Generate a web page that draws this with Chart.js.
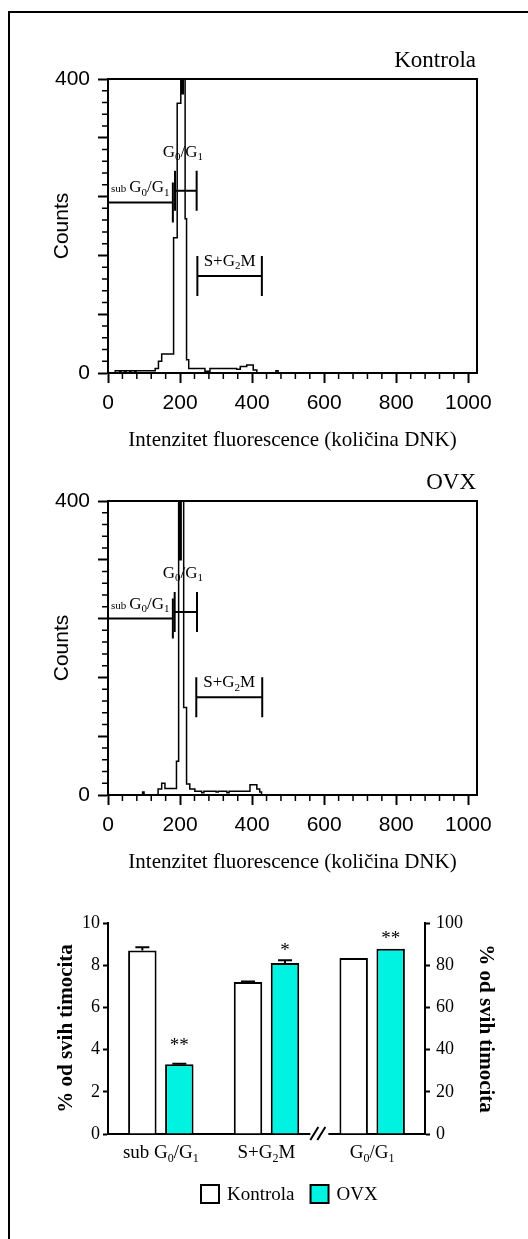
<!DOCTYPE html>
<html>
<head>
<meta charset="utf-8">
<script src="https://cdn.jsdelivr.net/npm/chart.js@4"></script>
<style>
  body { margin: 0; background: #fff; }
  #page { position: relative; width: 528px; height: 1239px; overflow: hidden; }
  #frame { position: absolute; left: 8px; top: 11px; right: -10px; bottom: -10px;
           border-left: 2px solid #000; border-top: 2px solid #000; }
  canvas { position: absolute; left: 0; }
</style>
</head>
<body>
<div id="page">
  <div id="frame"></div>
  <canvas id="kontrola" width="528" height="460" style="top:0"></canvas>
  <canvas id="ovx" width="528" height="460" style="top:422px"></canvas>
  <canvas id="phases" width="528" height="359" style="top:880px"></canvas>
</div>
<script>
// histograms: bin start (channel) and counts per bin
const kontrolaChannel = [0, 20, 32, 36, 46, 50, 60, 64, 74, 78, 131, 140, 149, 182, 192, 202, 206, 209, 214, 218, 224, 269, 283, 357, 367, 385, 403, 413, 466, 472, 1024];
const kontrolaCounts = [0, 3, 0, 3, 0, 3, 0, 3, 0, 3, 6, 16, 26, 184, 367, 600, 380, 600, 210, 18, 6, 2.5, 6, 5, 9, 11, 4, 0, 3, 0, 0];
const ovxChannel = [0, 96, 100, 139, 149, 158, 190, 196, 200, 203, 210, 218, 227, 241, 260, 266, 300, 306, 330, 336, 394, 413, 421, 426, 1024];
const ovxCounts = [0, 4, 0, 8, 16, 9, 46, 700, 320, 700, 119, 15, 8, 5, 3, 5, 4, 5, 3, 5, 14, 8, 4, 0, 0];
const channelTicks = [0, 200, 400, 600, 800, 1000];
const countTicks = [0, 80, 160, 240, 320, 400];
const countLabels = [0, 400];

// gate markers (channel range, counts level)
const gateNames = ['subG0/G1', 'G0/G1', 'S+G2M'];
const kontrolaGateFrom = [0, 186, 248];
const kontrolaGateTo = [180, 246, 427];
const kontrolaGateLevel = [232, 248, 132];
const ovxGateFrom = [0, 185, 245];
const ovxGateTo = [180, 247, 428];
const ovxGateLevel = [240, 249, 133];

// bar chart: % of all thymocytes
const phaseLabels = ['sub G0/G1', 'S+G2M', 'G0/G1'];
const kontrolaPct = [8.7, 7.2, null];        // left axis
const ovxPct = [3.3, 8.1, null];
const kontrolaPctRight = [null, null, 83.4]; // right axis
const ovxPctRight = [null, null, 87.8];
const kontrolaErr = [0.15, 0.03, 0];
const ovxErr = [0.03, 0.13, 0];
const ovxSig = ['**', '*', '**'];

const SERIF = '"Liberation Serif", "Times New Roman", serif';
const SANS = '"Liberation Sans", Arial, sans-serif';
Chart.defaults.font.family = SERIF;
Chart.defaults.color = '#000';

// text with G0 / G1 / G2 subscripts
function richParts(text, smallPrefix) {
  const parts = [];
  let s = text;
  if (smallPrefix && s.startsWith('sub')) {
    parts.push({t: 'sub', k: 'pre'});
    s = s.slice(3).trim();
  }
  for (let i = 0; i < s.length; i++) {
    const k = (/\d/.test(s[i]) && s[i - 1] === 'G') ? 'sub' : 'n';
    const last = parts[parts.length - 1];
    if (last && last.k === k) last.t += s[i];
    else parts.push({t: s[i], k: k});
  }
  return parts;
}

function drawRich(ctx, parts, x, y, align, size) {
  const fontOf = k => (k === 'n' ? size : Math.round(size * 0.65)) + 'px ' + SERIF;
  const widths = parts.map(p => {
    ctx.font = fontOf(p.k);
    return ctx.measureText(p.t).width + (p.k === 'pre' ? 3 : 0);
  });
  const total = widths.reduce((a, b) => a + b, 0);
  let cx = align === 'center' ? x - total / 2 : x;
  ctx.textAlign = 'left';
  ctx.textBaseline = 'alphabetic';
  ctx.fillStyle = '#000';
  parts.forEach((p, i) => {
    ctx.font = fontOf(p.k);
    ctx.fillText(p.t, cx, y + (p.k === 'sub' ? size * 0.2 : 0));
    cx += widths[i];
  });
}

// label placement for the three gates
const gateLabelStyle = [
  {align: 'left', dx: 3, dy: -10},
  {align: 'center', dx: -3, dy: -34},
  {align: 'center', dx: 0, dy: -10}
];

const gatePlugin = {
  id: 'gates',
  afterDatasetsDraw(chart, args, opts) {
    const {ctx, chartArea: a, scales: {x, y}} = chart;
    ctx.save();
    ctx.strokeStyle = '#000';
    ctx.lineWidth = 2;
    // frame
    ctx.beginPath();
    ctx.moveTo(a.left, a.top);
    ctx.lineTo(a.right, a.top);
    ctx.lineTo(a.right, a.bottom);
    ctx.stroke();
    // gates
    opts.from.forEach((f, i) => {
      const x0 = x.getPixelForValue(f);
      const x1 = x.getPixelForValue(opts.to[i]);
      const py = y.getPixelForValue(opts.level[i]);
      ctx.beginPath();
      ctx.moveTo(x0, py); ctx.lineTo(x1, py);
      ctx.moveTo(x0, py - 20); ctx.lineTo(x0, py + 20);
      ctx.moveTo(x1, py - 20); ctx.lineTo(x1, py + 20);
      ctx.stroke();
      const st = gateLabelStyle[i];
      const lx = st.align === 'left' ? a.left + st.dx : (x0 + x1) / 2 + st.dx;
      drawRich(ctx, richParts(opts.names[i], true), lx, py + st.dy, st.align, 17);
    });
    // minor ticks
    ctx.lineWidth = 1.5;
    ctx.beginPath();
    for (let v = 40; v < x.max; v += 40) {
      if (v % 200 === 0) continue;
      const px = x.getPixelForValue(v);
      ctx.moveTo(px, a.bottom); ctx.lineTo(px, a.bottom + 6);
    }
    for (let v = 16; v < y.max; v += 16) {
      if (v % 80 === 0) continue;
      const py = y.getPixelForValue(v);
      ctx.moveTo(a.left - 6, py); ctx.lineTo(a.left, py);
    }
    ctx.stroke();
    // panel name
    ctx.font = '23px ' + SERIF;
    ctx.fillStyle = '#000';
    ctx.textAlign = 'right';
    ctx.textBaseline = 'alphabetic';
    ctx.fillText(opts.title, a.right - 1, a.top - 12);
    ctx.restore();
  }
};

function histogram(id, title, channel, counts, from, to, level) {
  const tickFont = {family: SANS, size: 21};
  return new Chart(document.getElementById(id), {
    type: 'line',
    data: {
      datasets: [{
        data: channel.map((c, i) => ({x: c, y: counts[i]})),
        stepped: true,
        borderColor: '#000',
        borderWidth: 1.5,
        pointRadius: 0,
        fill: false
      }]
    },
    options: {
      responsive: false,
      animation: false,
      layout: {padding: {top: 79, right: 51, left: 0, bottom: 0}},
      plugins: {
        legend: {display: false},
        tooltip: {enabled: false},
        gates: {title: title, names: gateNames, from: from, to: to, level: level}
      },
      scales: {
        x: {
          type: 'linear', min: 0, max: 1024,
          afterBuildTicks: s => { s.ticks = channelTicks.map(v => ({value: v})); },
          afterFit: s => { s.height = 87; },
          ticks: {padding: 8, maxRotation: 0, autoSkip: false, font: tickFont,
                  callback: v => String(v)},
          grid: {drawOnChartArea: false, tickLength: 10, tickWidth: 2, tickColor: '#000'},
          border: {color: '#000', width: 2},
          title: {display: true, text: 'Intenzitet fluorescence (količina DNK)',
                  font: {family: SERIF, size: 21}, padding: {top: 0, bottom: 7}}
        },
        y: {
          min: 0, max: 400,
          afterBuildTicks: s => { s.ticks = countTicks.map(v => ({value: v})); },
          afterFit: s => { s.width = 108; },
          ticks: {padding: 8, autoSkip: false, font: tickFont,
                  callback: v => countLabels.includes(v) ? String(v) : ''},
          grid: {drawOnChartArea: false, tickLength: 10, tickWidth: 2, tickColor: '#000'},
          border: {color: '#000', width: 2},
          title: {display: true, text: 'Counts', font: {family: SANS, size: 21},
                  padding: {top: 50, bottom: 0}}
        }
      }
    },
    plugins: [gatePlugin]
  });
}

histogram('kontrola', 'Kontrola', kontrolaChannel, kontrolaCounts, kontrolaGateFrom, kontrolaGateTo, kontrolaGateLevel);
histogram('ovx', 'OVX', ovxChannel, ovxCounts, ovxGateFrom, ovxGateTo, ovxGateLevel);

// error bars, significance marks, category labels, axis break and legend
const sigGap = [23, 14, 15];
const barExtras = {
  id: 'barExtras',
  afterDatasetsDraw(chart) {
    const {ctx, chartArea: a, scales} = chart;
    const errs = [kontrolaErr, ovxErr, kontrolaErr, ovxErr];
    ctx.save();
    ctx.strokeStyle = '#000';
    ctx.fillStyle = '#000';
    ctx.lineWidth = 2;
    chart.data.datasets.forEach((ds, i) => {
      const ys = scales[ds.yAxisID];
      chart.getDatasetMeta(i).data.forEach((bar, j) => {
        const v = ds.data[j];
        if (v === null) return;
        const err = errs[i][j];
        const top = ys.getPixelForValue(v + err);
        if (err > 0) {
          ctx.beginPath();
          ctx.moveTo(bar.x, ys.getPixelForValue(v)); ctx.lineTo(bar.x, top);
          ctx.moveTo(bar.x - 7, top); ctx.lineTo(bar.x + 7, top);
          ctx.stroke();
        }
        if (ds.label === 'OVX') {
          ctx.font = '19px ' + SERIF;
          ctx.textAlign = 'center';
          ctx.textBaseline = 'alphabetic';
          ctx.fillText(ovxSig[j], bar.x, top - sigGap[j] + 10);
        }
      });
    });
    // category labels
    chart.data.labels.forEach((lab, j) => {
      drawRich(ctx, richParts(lab, false), scales.x.getPixelForValue(j), a.bottom + 24, 'center', 19);
    });
    // axis break between the two scales
    const cx = (scales.x.getPixelForValue(1) + scales.x.getPixelForValue(2)) / 2;
    ctx.fillStyle = '#fff';
    ctx.fillRect(cx - 9, a.bottom - 3, 18, 6);
    ctx.beginPath();
    ctx.moveTo(cx - 9, a.bottom + 6); ctx.lineTo(cx - 1, a.bottom - 7);
    ctx.moveTo(cx - 2, a.bottom + 6); ctx.lineTo(cx + 6, a.bottom - 7);
    ctx.stroke();
    // legend
    let lx = a.left + 93;
    const ly = a.bottom + 51;
    ctx.font = '19px ' + SERIF;
    ctx.textAlign = 'left';
    chart.data.datasets.slice(0, 2).forEach(ds => {
      ctx.fillStyle = ds.backgroundColor;
      ctx.fillRect(lx, ly, 18, 18);
      ctx.strokeRect(lx, ly, 18, 18);
      ctx.fillStyle = '#000';
      ctx.fillText(ds.label, lx + 26, ly + 15);
      lx += 26 + ctx.measureText(ds.label).width + 16;
    });
    ctx.restore();
  }
};

const OVX_COLOR = '#00f2e0';
const axisTicks = {font: {family: SERIF, size: 18}};
new Chart(document.getElementById('phases'), {
  type: 'bar',
  data: {
    labels: phaseLabels,
    datasets: [
      {label: 'Kontrola', data: kontrolaPct, yAxisID: 'y', backgroundColor: '#ffffff'},
      {label: 'OVX', data: ovxPct, yAxisID: 'y', backgroundColor: OVX_COLOR},
      {label: 'Kontrola', data: kontrolaPctRight, yAxisID: 'y2', backgroundColor: '#ffffff'},
      {label: 'OVX', data: ovxPctRight, yAxisID: 'y2', backgroundColor: OVX_COLOR}
    ]
  },
  options: {
    responsive: false,
    animation: false,
    layout: {padding: {top: 43, right: 0, left: 0, bottom: 0}},
    datasets: {
      bar: {skipNull: true, borderColor: '#000', borderWidth: 2,
            categoryPercentage: 0.7, barPercentage: 0.77}
    },
    plugins: {legend: {display: false}, tooltip: {enabled: false}},
    scales: {
      x: {
        afterFit: s => { s.height = 105; },
        ticks: {display: false},
        grid: {drawOnChartArea: false, drawTicks: false},
        border: {color: '#000', width: 2}
      },
      y: {
        position: 'left', min: 0, max: 10,
        afterFit: s => { s.width = 108; },
        ticks: Object.assign({stepSize: 2, padding: 3}, axisTicks),
        grid: {drawOnChartArea: false, tickLength: 5, tickWidth: 2, tickColor: '#000'},
        border: {color: '#000', width: 2},
        title: {display: true, text: '% od svih timocita',
                font: {family: SERIF, size: 21, weight: 'bold'}, padding: {top: 54, bottom: 0}}
      },
      y2: {
        position: 'right', min: 0, max: 100,
        afterFit: s => { s.width = 103; },
        ticks: Object.assign({stepSize: 20, padding: 6}, axisTicks),
        grid: {drawOnChartArea: false, tickLength: 5, tickWidth: 2, tickColor: '#000'},
        border: {color: '#000', width: 2},
        title: {display: true, text: '% od svih timocita',
                font: {family: SERIF, size: 21, weight: 'bold'}, padding: {top: 30, bottom: 0}}
      }
    }
  },
  plugins: [barExtras]
});
</script>
</body>
</html>
